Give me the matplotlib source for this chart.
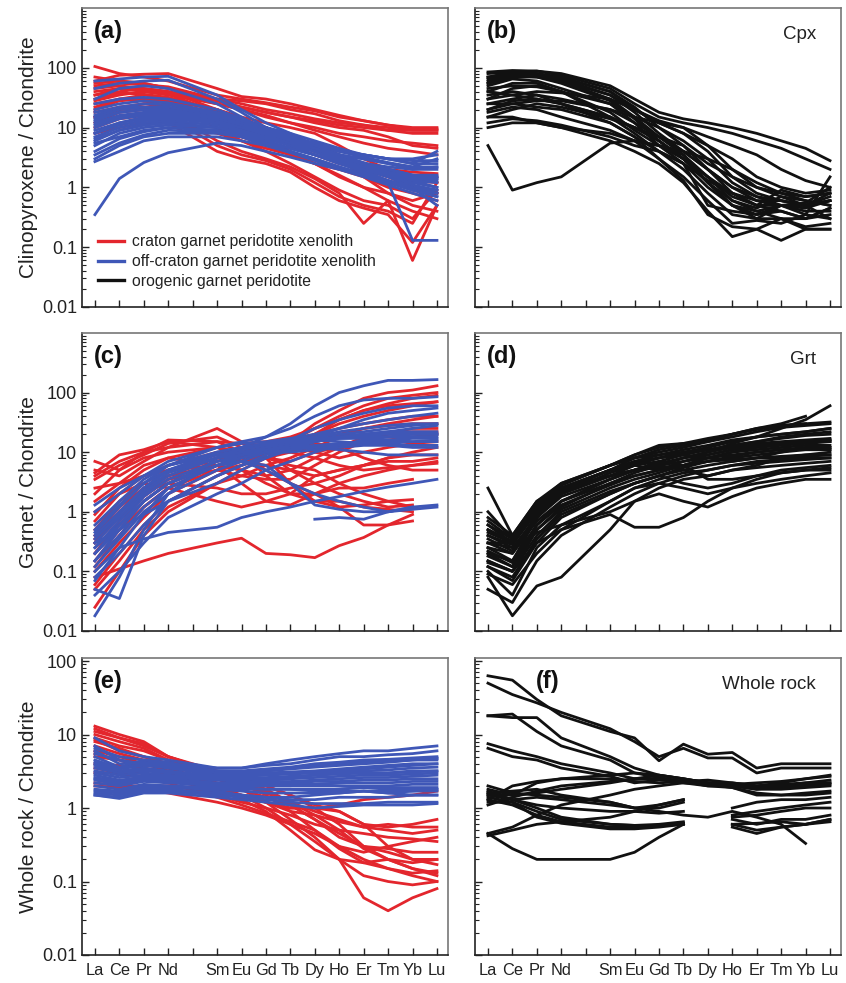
import numpy as np
import matplotlib
matplotlib.use("Agg")
import matplotlib.pyplot as plt
from matplotlib.ticker import LogLocator, NullFormatter, FixedLocator

plt.rcParams['font.family'] = ['Liberation Sans', 'DejaVu Sans']

nan = float('nan')

# REE order (Pm has a tick but no data)
ree_labels = ['La', 'Ce', 'Pr', 'Nd', '', 'Sm', 'Eu', 'Gd', 'Tb', 'Dy', 'Ho', 'Er', 'Tm', 'Yb', 'Lu']
ree_x = [1, 2, 3, 4, 6, 7, 8, 9, 10, 11, 12, 13, 14, 15]

# (a) clinopyroxene, craton xenoliths
cpx_craton = [
    [105, 80, 70, 60, 35, 30, 26, 22, 19, 15, 13, 11, 10, 10],
    [60, 75, 78, 80, 45, 33, 30, 25, 20, 16, 13, 11, 9.5, 9.5],
    [50, 55, 52, 48, 30, 28, 25, 20, 17, 13, 11, 9, 8, 8],
    [45, 50, 45, 40, 28, 22, 18, 15, 12, 10, 9, 7, 5, 4.5],
    [35, 45, 42, 38, 25, 20, 15, 12, 9, 7, 5.5, 4.5, 4, 3.5],
    [30, 38, 36, 32, 20, 14, 10, 7, 4.5, 3, 2.5, 2, 1.8, 1.7],
    [25, 30, 35, 30, 15, 10, 7, 5, 3.5, 2.5, 2, 1.5, 1.3, 1.2],
    [20, 28, 30, 25, 12, 7, 5, 3.5, 2.5, 1.5, 1.0, 0.8, 0.6, 0.8],
    [18, 22, 25, 22, 10, 6, 4, 2.5, 1.5, 0.9, 0.6, 0.5, 0.3, 0.9],
    [15, 20, 22, 18, 6, 4, 3, 2.2, 1.4, 0.8, 0.25, 0.6, 0.06, 0.5],
    [12, 18, 20, 15, 5, 3.5, 2.8, 2, 1.2, 0.7, 0.5, 0.4, 0.25, 1.2],
    [10, 14, 16, 12, 4, 3, 2.5, 1.8, 1.0, 0.6, 0.45, 0.35, 0.12, 0.5],
    [40, 45, 40, 35, 25, 20, 16, 12, 10, 8, 7, 6, 5.5, 5],
    [55, 60, 55, 45, 30, 25, 20, 17, 14, 12, 11, 10, 9, 9],
    [28, 35, 40, 36, 18, 12, 8, 6, 4, 3, 1.5, 0.8, 0.5, 0.4],
    [8, 10, 12, 12, 8, 6, 4.5, 3.5, 2.5, 2, 1.5, 1, 0.8, 0.6],
    [70, 60, 55, 45, 28, 22, 18, 15, 13, 11, 10, 9, 9, 9],
    [35, 40, 45, 40, 20, 15, 12, 10, 8, 5, 3, 2, 1.2, 1.5],
    [22, 30, 30, 28, 14, 9, 6, 4, 2.5, 1.6, 1.0, 0.6, 0.4, 0.3],
    [15, 20, 25, 28, 20, 14, 10, 7, 5, 3.5, 2.2, 1.5, 1, 0.8],
]

# (a) clinopyroxene, off-craton xenoliths
cpx_offcraton = [
    [60, 65, 70, 72, 35, 20, 12, 8, 5, 3.5, 2.5, 1.8, 1.3, 1.0],
    [45, 55, 60, 62, 30, 18, 10, 6, 4, 3, 2, 1.5, 1.0, 0.8],
    [0.35, 1.4, 2.6, 3.8, 5.5, 5, 4, 3.2, 2.5, 2, 1.6, 1.2, 0.9, 0.7],
    [20, 25, 28, 26, 18, 14, 10, 7, 4.5, 3, 2, 1.2, 0.13, 0.13],
    [15, 20, 22, 22, 16, 13, 10, 8, 6, 4.5, 3.5, 3, 2.5, 2.5],
    [12, 16, 18, 18, 14, 11, 9, 7, 5.5, 4, 3.5, 3, 3, 3.5],
    [10, 14, 16, 16, 12, 10, 8, 6, 5, 4, 3.5, 3, 2.8, 2.8],
    [8, 11, 13, 14, 12, 9, 7, 5.5, 4, 3, 2.5, 2.2, 2, 2],
    [6, 9, 11, 12, 10, 8, 6.5, 5, 4, 3, 2.5, 2, 1.6, 1.5],
    [5, 8, 10, 11, 10, 8, 6, 4.5, 3.5, 2.5, 2, 1.6, 1.3, 1.2],
    [4, 6.5, 8.5, 10, 9, 7.5, 6, 4.5, 3.5, 2.6, 2, 1.5, 1.2, 1.0],
    [3, 5, 7, 8, 8, 7, 5.5, 4.5, 3.5, 2.8, 2.2, 1.8, 1.5, 1.4],
    [2.7, 4, 6, 7, 7, 6, 5, 4, 3, 2.2, 1.6, 1.2, 0.9, 0.8],
    [7, 10, 12, 13, 11, 9, 7, 5, 3.5, 2.5, 1.8, 1.3, 1.0, 0.9],
    [9, 12, 15, 16, 13, 10, 7.5, 5.5, 4, 3, 2.2, 1.7, 1.4, 1.3],
    [13, 18, 20, 20, 15, 12, 9, 6.5, 4.5, 3.2, 2.4, 1.8, 1.5, 1.4],
    [18, 22, 25, 24, 17, 13, 10, 7.5, 5, 3.5, 2.5, 2, 1.6, 1.6],
    [25, 30, 32, 30, 20, 14, 10, 7, 5, 3.5, 2.6, 2, 1.6, 1.5],
    [11, 15, 17, 17, 13, 10, 8, 6, 4.5, 3.5, 3, 2.5, 2.2, 2.2],
    [5.5, 7, 9, 10, 9, 7, 5, 3.8, 2.8, 2, 1.5, 1.1, 0.8, 0.6],
    [3.5, 5.5, 7.5, 9, 8.5, 7, 5.5, 4, 3, 2.2, 1.7, 1.3, 1.0, 0.5],
    [16, 22, 22, 20, 15, 12, 9, 7, 5.5, 4.2, 3.5, 3, 2.5, 4],
    [8, 12, 14, 15, 12, 10, 8, 6.5, 5, 4, 3.2, 2.6, 2.2, 3],
    [14, 18, 20, 19, 14, 11, 8.5, 6, 4, 2.8, 1.9, 1.3, 0.9, 0.7],
    [30, 45, 50, 45, 25, 15, 9, 6, 4, 3, 2.2, 1.6, 1.1, 0.9],
    [6.5, 9, 11, 12, 10, 8.5, 7, 5.5, 4.5, 3.5, 3, 2.5, 2, 2.2],
]

# (b) clinopyroxene, orogenic peridotites
cpx_orogenic = [
    [85, 90, 88, 80, 50, 30, 18, 14, 12, 10, 8, 6, 4.5, 2.8],
    [80, 85, 88, 75, 45, 25, 15, 12, 10, 8, 6, 4.5, 3, 2],
    [70, 85, 80, 70, 40, 22, 10, 5, 2.5, 1.5, 1, 0.8, 0.7, 0.8],
    [65, 80, 80, 65, 35, 18, 8, 4, 2, 1.0, 0.7, 0.6, 0.5, 0.6],
    [60, 75, 75, 60, 30, 15, 7, 3.5, 1.5, 0.8, 0.5, 0.5, 0.35, 1.5],
    [55, 70, 70, 55, 28, 14, 6, 3, 1.2, 0.6, 0.45, 0.7, 0.6, 0.5],
    [50, 65, 60, 45, 25, 12, 5, 2.5, 1, 0.5, 0.35, 0.5, 0.4, 0.4],
    [40, 55, 55, 40, 18, 9, 5, 3, 1.5, 0.7, 0.5, 0.9, 0.7, 0.8],
    [35, 40, 35, 25, 12, 7, 4, 2.5, 1.3, 0.8, 0.6, 0.5, 0.5, 0.6],
    [30, 45, 50, 40, 15, 8, 4, 2.5, 0.5, 0.4, 0.35, 0.4, 0.3, 0.45],
    [25, 30, 35, 30, 20, 12, 7, 4, 2, 1, 0.6, 0.6, 0.5, 0.8],
    [20, 28, 30, 25, 15, 10, 6, 3, 1.2, 0.5, 0.3, 0.5, 0.45, 0.6],
    [18, 22, 20, 15, 9, 6, 3, 1.5, 0.6, 0.25, 0.28, 0.25, 0.35, 0.3],
    [15, 15, 12, 10, 6, 4, 2.5, 1.2, 0.4, 0.15, 0.2, 0.13, 0.2, 0.2],
    [12, 14, 13, 11, 7, 5, 4, 2, 0.8, 0.35, 0.3, 0.3, 0.22, 0.25],
    [10, 12, 12, 10, 8, 6, 5, 3.5, 1.2, 0.5, 0.4, 0.5, 0.5, 0.6],
    [5, 0.9, 1.2, 1.5, 5.5, 6, 5, 4, 3, 2, 1.2, 0.8, 0.6, 0.5],
    [25, 25, 22, 20, 12, 7, 3, 1.3, 0.35, 0.22, 0.2, 0.3, 0.2, 0.2],
    [45, 50, 48, 40, 25, 15, 12, 10, 5, 2, 1, 0.7, 0.5, 0.7],
    [30, 35, 40, 38, 30, 20, 13, 10, 7, 5, 3.5, 2, 1.3, 1.0],
    [55, 70, 72, 68, 40, 20, 12, 8, 4, 1.5, 0.8, 0.6, 0.5, 0.3],
    [15, 20, 25, 22, 14, 10, 7, 5, 2, 0.8, 0.5, 0.4, 0.3, 0.35],
    [20, 25, 28, 28, 20, 15, 10, 6, 3, 1.2, 0.7, 0.5, 0.55, 1.0],
    [40, 35, 30, 25, 15, 10, 6, 3, 1.5, 0.6, 0.4, 0.3, 0.3, 0.45],
    [70, 75, 70, 60, 35, 20, 12, 8, 5, 3, 1.5, 1, 0.8, 0.9],
]

# (c) garnet, craton xenoliths
grt_craton = [
    [7, 5, 8, 10, 12, 10, 8, 6, 5, 3, 2, 1.5, 1.2, nan],
    [5, 4, 7, 12, 25, 15, 10, 5, 3, 2, 1.5, 1.2, 1.3, nan],
    [3.5, 6, 9, 14, 18, 12, 8, 3, 1.5, 1.5, 1.2, 1.1, 1.0, nan],
    [2, 5, 10, 16, 15, 10, 4, 2, 2, 2.5, 2.5, 3, 3.5, nan],
    [1.5, 3, 6, 8, 6, 3, 1.5, 2, 4, 5, 6, 8, 10, 12],
    [0.08, 0.11, 0.15, 0.2, 0.3, 0.36, 0.2, 0.19, 0.17, 0.27, 0.37, 0.6, 0.7, nan],
    [0.3, 1, 2.5, 4, 8, 10, 12, 15, 20, 30, 40, 50, 60, 70],
    [0.2, 0.6, 1.5, 3, 6, 8, 12, 15, 25, 40, 60, 80, 90, 100],
    [0.1, 0.3, 0.8, 2, 5, 7, 10, 15, 30, 50, 80, 100, 110, 130],
    [0.05, 0.15, 0.5, 1.2, 3, 5, 8, 12, 20, 35, 50, 65, 80, 90],
    [0.025, 0.1, 0.4, 1, 3, 4, 6, 8, 12, 18, 25, 30, 35, 40],
    [0.5, 1.5, 3, 5, 8, 7, 6, 5, 4, 5, 6, 7, 7, 8],
    [1, 2, 4, 6, 10, 9, 8, 7, 10, 12, 14, 16, 18, 20],
    [0.15, 0.5, 1.2, 2.5, 5, 6, 8, 10, 15, 20, 25, 28, 30, 30],
    [4, 7, 10, 12, 15, 14, 12, 10, 8, 6, 5, 5.5, 6, 6.5],
    [0.4, 1.2, 2.5, 4, 6, 5, 3, 2, 1.5, 1.2, 1.3, 1.5, 1.6, nan],
    [0.3, 0.8, 2, 3.5, 5, 4, 3.5, 3.5, 6, 10, 15, 20, 25, 25],
    [2.5, 3, 4, 5, 6, 5, 4, 5, 8, 12, 18, 20, 22, 22],
    [0.06, 0.2, 0.6, 1.5, 4, 6, 10, 14, 20, 25, 30, 35, 40, 40],
    [0.7, 2, 3, 2.5, 1.5, 1.2, 1.5, 1.3, 2, 3, 4, 5, 6, 7],
    [0.12, 0.4, 1.2, 2.5, 6, 8, 10, 12, 10, 8, 10, 12, 14, 15],
    [4.5, 9, 11, 15, 12, 8, 5, 3, 2, 1.2, 0.6, 0.6, 0.9, nan],
    [0.2, 0.7, 1.8, 3.5, 7, 9, 11, 12, 14, 12, 8, 6, 5, 5],
    [0.35, 1.0, 2.2, 3, 2.5, 2, 2, 2.5, 3, 4, 6, 8, 9, 9],
    [0.9, 2.5, 5, 8, 12, 14, 15, 18, 25, 35, 50, 60, 65, 70],
]

# (c) garnet, off-craton xenoliths
grt_offcraton = [
    [0.018, 0.08, 0.5, 2, 8, 12, 18, 30, 60, 100, 130, 160, 160, 165],
    [0.05, 0.035, 0.4, 1.5, 4, 6, 8, 11, 15, 18, 20, 22, 22, 22],
    [0.08, 0.2, 0.6, 1.5, 4, 6, 9, 12, 15, 18, 20, 20, 20, 20],
    [0.15, 0.4, 1.2, 2.5, 6, 8, 10, 13, 16, 18, 19, 20, 20, 20],
    [0.25, 0.7, 2, 4, 8, 10, 12, 14, 16, 17, 18, 18, 18, 18],
    [0.4, 1.0, 2.5, 5, 9, 11, 13, 15, 17, 18, 20, 22, 25, 28],
    [0.6, 1.5, 3.5, 6, 10, 12, 14, 15, 16, 15, 14, 14, 13, 13],
    [1, 2, 4, 7, 12, 14, 15, 17, 20, 25, 30, 35, 40, 45],
    [0.3, 0.5, 0.9, 1.5, 3, 5, 8, 12, 18, 22, 25, 28, 30, 30],
    [0.1, 0.25, 0.35, 0.45, 0.55, 0.8, 1.0, 1.2, 1.5, 1.8, 2.2, 2.6, 3, 3.5],
    [0.2, 0.5, 1.5, 3, 6, 7, 5, 3, 2, 1.5, 1.2, 1.0, 1.2, 1.3],
    [nan, nan, nan, nan, nan, nan, nan, nan, 0.75, 0.8, 0.75, 1.0, 1.2, nan],
    [0.5, 1.3, 3, 5, 8, 9, 10, 11, 12, 13, 14, 15, 15, 16],
    [0.07, 0.25, 0.9, 2.5, 6, 9, 12, 16, 25, 35, 45, 55, 60, 60],
    [0.12, 0.35, 1.0, 2, 5, 7, 10, 13, 18, 25, 35, 45, 50, 55],
    [0.3, 0.8, 2.2, 4.5, 8, 10, 11, 12, 12, 11, 10, 9, 9, 9],
    [0.04, 0.1, 0.3, 0.8, 2, 3, 5, 7, 10, 13, 16, 18, 20, 20],
    [0.2, 0.6, 1.8, 3.5, 7, 9, 11, 13, 15, 17, 17, 16, 15, 15],
    [1.3, 2.5, 4, 6, 9, 10, 11, 12, 13, 14, 15, 16, 17, 17],
    [0.35, 0.9, 2.5, 5, 10, 12, 14, 16, 18, 20, 22, 25, 28, 30],
    [0.15, 0.5, 1.5, 3, 7, 8, 10, 10, 11, 12, 13, 13, 12, 12],
    [0.25, 0.6, 1.5, 3, 6, 7, 6, 3, 1.3, 1.1, 1.0, 1.0, 1.1, 1.2],
    [0.45, 1.2, 3, 6, 12, 15, 18, 25, 40, 60, 75, 80, 80, 85],
]

# (d) garnet, orogenic peridotites
grt_orogenic = [
    [2.5, 0.4, 1.5, 2.5, 4, 5, 6, 8, 10, 14, 18, 25, 35, 60],
    [1.0, 0.35, 1.2, 2.5, 5, 8, 10, 12, 15, 20, 25, 30, 40, nan],
    [0.5, 0.3, 1, 2, 4, 6, 8, 10, 12, 15, 18, 20, 22, 25],
    [0.4, 0.25, 0.8, 1.8, 3.5, 5, 7, 9, 11, 13, 15, 17, 19, 20],
    [0.3, 0.2, 0.7, 1.5, 3, 4.5, 6, 8, 10, 12, 14, 15, 16, 17],
    [0.25, 0.15, 0.6, 1.3, 2.8, 4, 5, 7, 9, 11, 12, 13, 14, 15],
    [0.2, 0.12, 0.5, 1.1, 2.5, 3.5, 4.5, 6, 8, 10, 11, 12, 13, 13],
    [0.15, 0.1, 0.4, 1.0, 2.2, 3, 4, 5.5, 7, 8, 9, 10, 11, 11],
    [0.12, 0.08, 0.35, 0.9, 2, 3, 4, 5, 6, 7, 8, 8.5, 9, 9],
    [0.1, 0.04, 0.25, 0.6, 1.5, 2.5, 3.5, 4.5, 5, 6, 7, 7.5, 8, 8],
    [0.08, 0.018, 0.057, 0.08, 0.5, 1.5, 2.5, 3.5, 4, 5, 5.5, 6, 6.5, 7],
    [0.05, 0.03, 0.15, 0.4, 1.2, 2, 3, 4, 5, 6, 6.5, 7, 7.5, 8],
    [0.8, 0.4, 1.5, 3, 6, 8, 9, 10, 11, 13, 15, 18, 20, 22],
    [0.6, 0.3, 1.2, 2.8, 6, 8, 11, 13, 16, 20, 24, 28, 30, 32],
    [0.35, 0.22, 0.9, 2.2, 5, 7, 9, 11, 13, 16, 18, 20, 22, 25],
    [0.2, 0.15, 0.8, 2, 4.5, 6, 7, 6, 3.5, 3.5, 4, 5, 5.5, 6],
    [0.15, 0.1, 0.3, 0.5, 0.9, 0.55, 0.55, 0.8, 1.5, 2.5, 3.5, 4.5, 5, 5],
    [0.3, 0.25, 0.45, 0.6, 1.0, 1.5, 2, 1.5, 1.2, 1.8, 2.5, 3, 3.5, 3.5],
    [0.45, 0.3, 1.1, 2.5, 5, 7, 8, 9, 8, 7, 8, 10, 12, 12],
    [0.18, 0.12, 0.6, 1.5, 3.5, 5, 6, 5, 4, 5, 6, 8, 9, 10],
    [0.7, 0.35, 1.4, 3, 6, 9, 12, 14, 17, 20, 25, 28, 30, nan],
    [0.25, 0.2, 0.8, 2, 4, 5, 6, 7, 8, 10, 12, 14, 15, 16],
    [0.12, 0.07, 0.3, 0.8, 2, 3, 4, 3, 2.5, 3, 4, 4.5, 5, 5.5],
    [0.09, 0.06, 0.2, 0.5, 1.5, 2.5, 3, 2.5, 2, 2.5, 3, 3.5, 4, 4.5],
    [0.4, 0.28, 1.0, 2.2, 4, 5, 5.5, 6, 7, 8.5, 10, 11, 12, 12],
    [0.6, 0.35, 1.3, 2.8, 6, 9, 13, 14, 15, 18, 22, 26, 28, 30],
    [0.3, 0.3, 1.2, 2.5, 5, 6, 5, 6, 8, 9, 10, 11, 11, 11],
    [0.14, 0.1, 0.5, 1.2, 3, 4, 5, 6, 7, 7.5, 8, 8, 8.5, 9],
    [0.22, 0.14, 0.6, 1.5, 3.5, 5, 6.5, 8, 9, 11, 13, 14, 15, 15],
    [0.5, 0.32, 1.1, 2.4, 5, 6.5, 8, 9.5, 11, 12, 13, 14, 15, 16],
]

# (e) whole rock, craton xenoliths
wr_craton = [
    [13, 10, 8, 5, 3, 2.5, 2, 1.5, 1, 0.6, 0.3, 0.2, 0.15, 0.12],
    [11, 9, 7.5, 5, 3, 2.5, 2, 1.5, 1.1, 0.9, 0.6, 0.55, 0.6, 0.7],
    [10, 8, 6.5, 4.5, 2.5, 2, 1.6, 1.2, 0.9, 0.7, 0.55, 0.5, 0.45, 0.5],
    [9, 7, 6, 4.5, 2.8, 2.2, 1.7, 1.1, 0.7, 0.45, 0.3, 0.25, 0.2, 0.17],
    [8, 6.5, 5, 4, 2.5, 1.8, 1.2, 0.7, 0.4, 0.2, 0.06, 0.04, 0.06, 0.08],
    [7, 5.5, 4.5, 3.5, 2, 1.5, 1.0, 0.6, 0.35, 0.2, 0.12, 0.1, 0.09, 0.1],
    [6, 5, 4, 3.2, 1.8, 1.3, 0.9, 0.5, 0.27, 0.2, 0.18, 0.2, 0.18, 0.2],
    [5, 4.5, 3.5, 3, 1.5, 1.2, 1.0, 0.8, 0.6, 0.5, 0.45, 0.4, 0.38, 0.35],
    [4, 3.8, 3.5, 2.8, 1.8, 1.5, 1.2, 0.9, 0.8, 0.65, 0.55, 0.6, 0.55, 0.55],
    [3.5, 3, 3, 2.5, 1.7, 1.4, 1.2, 1.0, 1.0, 1.1, 1.3, 1.4, 1.5, 1.7],
    [2.2, 2, 2, 2, 1.6, 1.4, 1.2, 1.0, 1.0, 0.9, 0.6, 0.3, 0.2, 0.2],
    [2, 1.9, 1.8, 1.6, 1.2, 1.0, 0.8, 0.6, 0.45, 0.3, 0.2, 0.15, 0.12, 0.1],
    [5.5, 4.5, 4, 3.5, 2.2, 1.8, 1.4, 1.1, 0.7, 0.4, 0.3, 0.28, 0.25, 0.25],
    [12, 9, 7, 5, 3.2, 2.5, 1.8, 1.2, 0.8, 0.5, 0.28, 0.2, 0.15, 0.13],
    [8.5, 6, 5, 4, 2.8, 2.2, 1.5, 0.9, 0.5, 0.3, 0.25, 0.3, 0.35, 0.4],
    [3, 3, 2.5, 2.2, 1.4, 1.1, 0.85, 0.65, 0.5, 0.28, 0.18, 0.15, 0.13, 0.14],
]

# (e) whole rock, off-craton xenoliths
wr_offcraton = [
    [9, 6, 5, 4.5, 3.5, 3.5, 4, 4.5, 5, 5.5, 6, 6, 6.5, 7],
    [6.5, 5, 4.5, 4, 3.5, 3.5, 3.8, 4, 4.5, 5, 5, 5.3, 5.5, 6],
    [6, 4, 4.2, 4, 3.2, 3.2, 3.4, 3.6, 4, 4.2, 4.5, 4.6, 4.8, 5],
    [5, 3.6, 4.5, 4.2, 3, 3, 3.2, 3.4, 3.6, 3.8, 4, 4.2, 4.5, 4.5],
    [4.5, 3.5, 4, 3.5, 2.8, 2.8, 3, 3.1, 3.2, 3.4, 3.6, 3.8, 4, 4],
    [4, 3.2, 3.5, 3.2, 2.7, 2.7, 2.8, 2.9, 3, 3.1, 3.2, 3.3, 3.5, 3.6],
    [3.5, 3, 3.2, 3, 2.6, 2.6, 2.6, 2.7, 2.8, 2.9, 3, 3, 3.2, 3.2],
    [3.2, 2.8, 3, 2.8, 2.5, 2.5, 2.5, 2.5, 2.6, 2.7, 2.8, 2.8, 2.9, 3],
    [3, 2.6, 2.8, 2.7, 2.4, 2.3, 2.3, 2.3, 2.4, 2.5, 2.6, 2.6, 2.7, 2.8],
    [2.8, 2.4, 2.6, 2.5, 2.2, 2.2, 2.2, 2.2, 2.3, 2.3, 2.4, 2.4, 2.5, 2.5],
    [2.5, 2.2, 2.5, 2.4, 2.1, 2.1, 2.1, 2.1, 2.1, 2.2, 2.2, 2.2, 2.3, 2.3],
    [2.2, 2, 2.3, 2.2, 2, 2, 2, 2, 2, 2, 2, 2, 2.1, 2.1],
    [2, 1.8, 2.1, 2, 1.9, 1.8, 1.8, 1.8, 1.8, 1.8, 1.9, 1.9, 1.9, 1.9],
    [1.7, 1.6, 1.9, 1.9, 1.8, 1.7, 1.6, 1.6, 1.6, 1.6, 1.7, 1.7, 1.7, 1.8],
    [1.6, 1.5, 1.8, 1.8, 1.6, 1.5, 1.4, 1.3, 1.3, 1.4, 1.4, 1.4, 1.5, 1.5],
    [1.5, 1.4, 1.7, 1.7, 1.5, 1.4, 1.3, 1.2, 1.15, 1.15, 1.15, 1.2, 1.2, 1.2],
    [1.5, 1.35, 1.6, 1.6, 1.4, 1.3, 1.2, 1.1, 1.0, 1.05, 1.1, 1.1, 1.1, 1.15],
    [7, 4.5, 3.8, 3.5, 3, 3, 3.2, 3.5, 3.8, 4, 4.2, 4.3, 4.5, 4.8],
    [4.2, 3.4, 3.8, 3.6, 3, 3, 3, 3, 3.1, 3.2, 3.4, 3.6, 3.8, 4.0],
    [2.6, 2.3, 2.7, 2.6, 2.4, 2.4, 2.5, 2.6, 2.8, 3, 3, 3, 3.1, 3.2],
    [3.8, 3.0, 3.4, 3.1, 2.6, 2.5, 2.4, 2.2, 2.1, 2, 1.9, 1.8, 1.8, 1.8],
    [5.5, 4.5, 4, 3.8, 3.2, 3.1, 3.3, 3.5, 3.8, 4, 4.2, 4.5, 4.6, 4.7],
    [1.8, 1.7, 2.0, 2.0, 1.7, 1.5, 1.4, 1.4, 1.5, 1.6, 1.7, 1.6, 1.7, 1.7],
    [2.4, 2.1, 2.4, 2.3, 2, 1.9, 1.8, 1.8, 1.7, 1.7, 1.7, 1.6, 1.5, 1.5],
]

# (f) whole rock, orogenic peridotites
wr_orogenic = [
    [63, 55, 30, 18, 11, 9, 4.4, 7.4, 5.4, 5.7, 3.5, 4, 4, 4],
    [50, 35, 27, 20, 12, 8, 5, 6.5, 4.8, 4.8, 3, 3.5, 3.5, 3.5],
    [18, 19, 11, 7, 4.5, 3, 2.6, 2.3, 2, 2, 1.8, 2, 2.2, 2.4],
    [18, 17, 17, 9, 5, 3.5, 2.8, 2.5, 2.2, 2.1, 2.2, 2.3, 2.5, 2.7],
    [7.5, 6, 5, 4, 3, 2.5, 2.5, 2.2, 2.0, 1.9, 1.6, 1.5, 1.6, 1.7],
    [6.5, 5, 4.5, 3.5, 2.7, 2.2, 2.4, 2.3, 2.2, 2.1, 2, 2.1, 2.2, 2.2],
    [1.8, 1.5, 1.6, 1.8, 2.2, 2.5, 2.8, 2.5, 2.2, 2.2, 2.0, 2.2, 2.5, 2.8],
    [1.7, 1.3, 1.4, 1.3, 1.1, 1.0, 1.1, 1.3, nan, 0.7, 0.6, 0.7, 0.7, 0.8],
    [1.6, 1.7, 1.8, 1.5, 1.2, 1.0, 1.0, 1.2, nan, 0.6, 0.5, 0.55, 0.6, 0.7],
    [1.4, 1.2, 0.9, 0.7, 0.6, 0.58, 0.6, 0.65, nan, 0.8, 0.9, 1.0, 1.1, 1.2],
    [1.3, 1.1, 0.8, 0.65, 0.55, 0.55, 0.58, 0.62, nan, 0.75, 0.8, 0.9, 1.0, 1.0],
    [1.2, 1.2, 0.75, 0.62, 0.52, 0.52, 0.55, 0.6, nan, 1.0, 1.2, 1.3, 1.3, 1.4],
    [0.45, 0.28, 0.2, 0.2, 0.2, 0.25, 0.4, 0.6, nan, nan, nan, nan, nan, nan],
    [0.45, 0.55, 0.8, 1.1, 1.5, 1.8, 2, 2.2, 2.1, 2, 1.8, 1.8, 1.9, 2],
    [0.42, 0.5, 0.6, 0.65, 0.75, 0.9, 1.1, 1.3, nan, nan, nan, nan, nan, nan],
    [1.5, 1.5, 2.2, 2.5, 2.8, 3, 2.8, 2.5, 2.2, 2.0, 1.9, 1.9, 2.0, 2.1],
    [2, 1.6, 1.5, 1.4, 1.2, 1.0, 0.9, 0.8, 0.75, 0.9, 0.75, 0.6, 0.33, nan],
    [1.3, 2, 2.3, 2.5, 2.5, 2.3, 2.2, 2.3, 2.4, 2.2, 2.0, 2.0, 2.1, 2.2],
    [1.5, 1.3, 1.1, 1.0, 0.9, 0.9, 0.85, 0.9, nan, 0.55, 0.45, 0.55, 0.6, 0.7],
    [1.1, 1.4, 1.7, 2.0, 2.3, 2.5, 2.5, 2.3, 2.1, 1.9, 1.5, 1.5, 1.5, 1.6],
    [1.6, 1.3, 1.0, 0.75, 0.6, 0.58, 0.58, 0.6, nan, 0.6, 0.62, 0.65, 0.6, 0.65],
]

RED = '#e3262d'
BLUE = '#3f57b7'
BLACK = '#111111'
LW = 2.0

fig = plt.figure(figsize=(8.46, 9.83), dpi=100)

col_left = [0.0969, 0.5615]
col_w = 0.4326
rows = [(0.6877, 0.3042), (0.3581, 0.3032), (0.0285, 0.3021)]
ylims = [(0.01, 1000), (0.01, 1000), (0.01, 110)]
ylabels = ['Clinopyroxene / Chondrite', 'Garnet / Chondrite', 'Whole rock / Chondrite']

panels = [
    [(cpx_craton, RED), (cpx_offcraton, BLUE)],
    [(cpx_orogenic, BLACK)],
    [(grt_craton, RED), (grt_offcraton, BLUE)],
    [(grt_orogenic, BLACK)],
    [(wr_craton, RED), (wr_offcraton, BLUE)],
    [(wr_orogenic, BLACK)],
]
tags = ['(a)', '(b)', '(c)', '(d)', '(e)', '(f)']
minerals = [None, 'Cpx', None, 'Grt', None, 'Whole rock']

axes = []
for i in range(6):
    r, c = divmod(i, 2)
    bottom, h = rows[r]
    ax = fig.add_axes([col_left[c], bottom, col_w, h])
    axes.append(ax)
    for data, color in panels[i]:
        for row in data:
            ax.plot(ree_x, row, color=color, lw=LW, solid_joinstyle='round')
    ax.set_yscale('log')
    ax.set_ylim(*ylims[r])
    ax.set_xlim(0.47, 15.45)

    ax.xaxis.set_major_locator(FixedLocator(range(1, 16)))
    ax.yaxis.set_minor_locator(LogLocator(base=10, subs=np.arange(2, 10), numticks=20))
    ax.yaxis.set_minor_formatter(NullFormatter())
    ax.tick_params(axis='both', which='major', direction='in', length=5, width=1.0,
                   colors='#222222', labelsize=13)
    ax.tick_params(axis='y', which='minor', direction='in', length=3, width=0.8, colors='#222222')
    ax.tick_params(axis='x', labelsize=11.8, pad=6)

    if r == 2:
        ax.set_xticklabels(ree_labels)
    else:
        ax.set_xticklabels([])
    ax.set_yticks([0.01, 0.1, 1, 10, 100])
    if c == 0:
        ax.set_yticklabels(['0.01', '0.1', '1', '10', '100'])
        ax.set_ylabel(ylabels[r], fontsize=15, color='#222222', labelpad=3)
    else:
        ax.set_yticklabels([])

    for side in ['left', 'bottom']:
        ax.spines[side].set_color('#222222')
        ax.spines[side].set_linewidth(1.2)
    for side in ['top', 'right']:
        ax.spines[side].set_color('#777777')
        ax.spines[side].set_linewidth(1.2)

    tag_x = 0.167 if i == 5 else 0.033
    ax.text(tag_x, 0.922, tags[i], transform=ax.transAxes, fontsize=17,
            fontweight='bold', ha='left', va='center', color='#111111')
    if minerals[i]:
        ax.text(0.932, 0.912, minerals[i], transform=ax.transAxes, fontsize=13.5,
                ha='right', va='center', color='#222222')

# legend in panel (a)
ax = axes[0]
h1, = ax.plot([], [], color=RED, lw=2.4, label='craton garnet peridotite xenolith')
h2, = ax.plot([], [], color=BLUE, lw=2.4, label='off-craton garnet peridotite xenolith')
h3, = ax.plot([], [], color=BLACK, lw=2.4, label='orogenic garnet peridotite')
ax.legend(handles=[h1, h2, h3], loc='lower left', bbox_to_anchor=(0.035, 0.05),
          frameon=False, fontsize=11.3, handlelength=1.65, handletextpad=0.5,
          labelspacing=0.3, borderaxespad=0, borderpad=0.2, labelcolor='#222222')

fig.savefig('out.png', dpi=100)
